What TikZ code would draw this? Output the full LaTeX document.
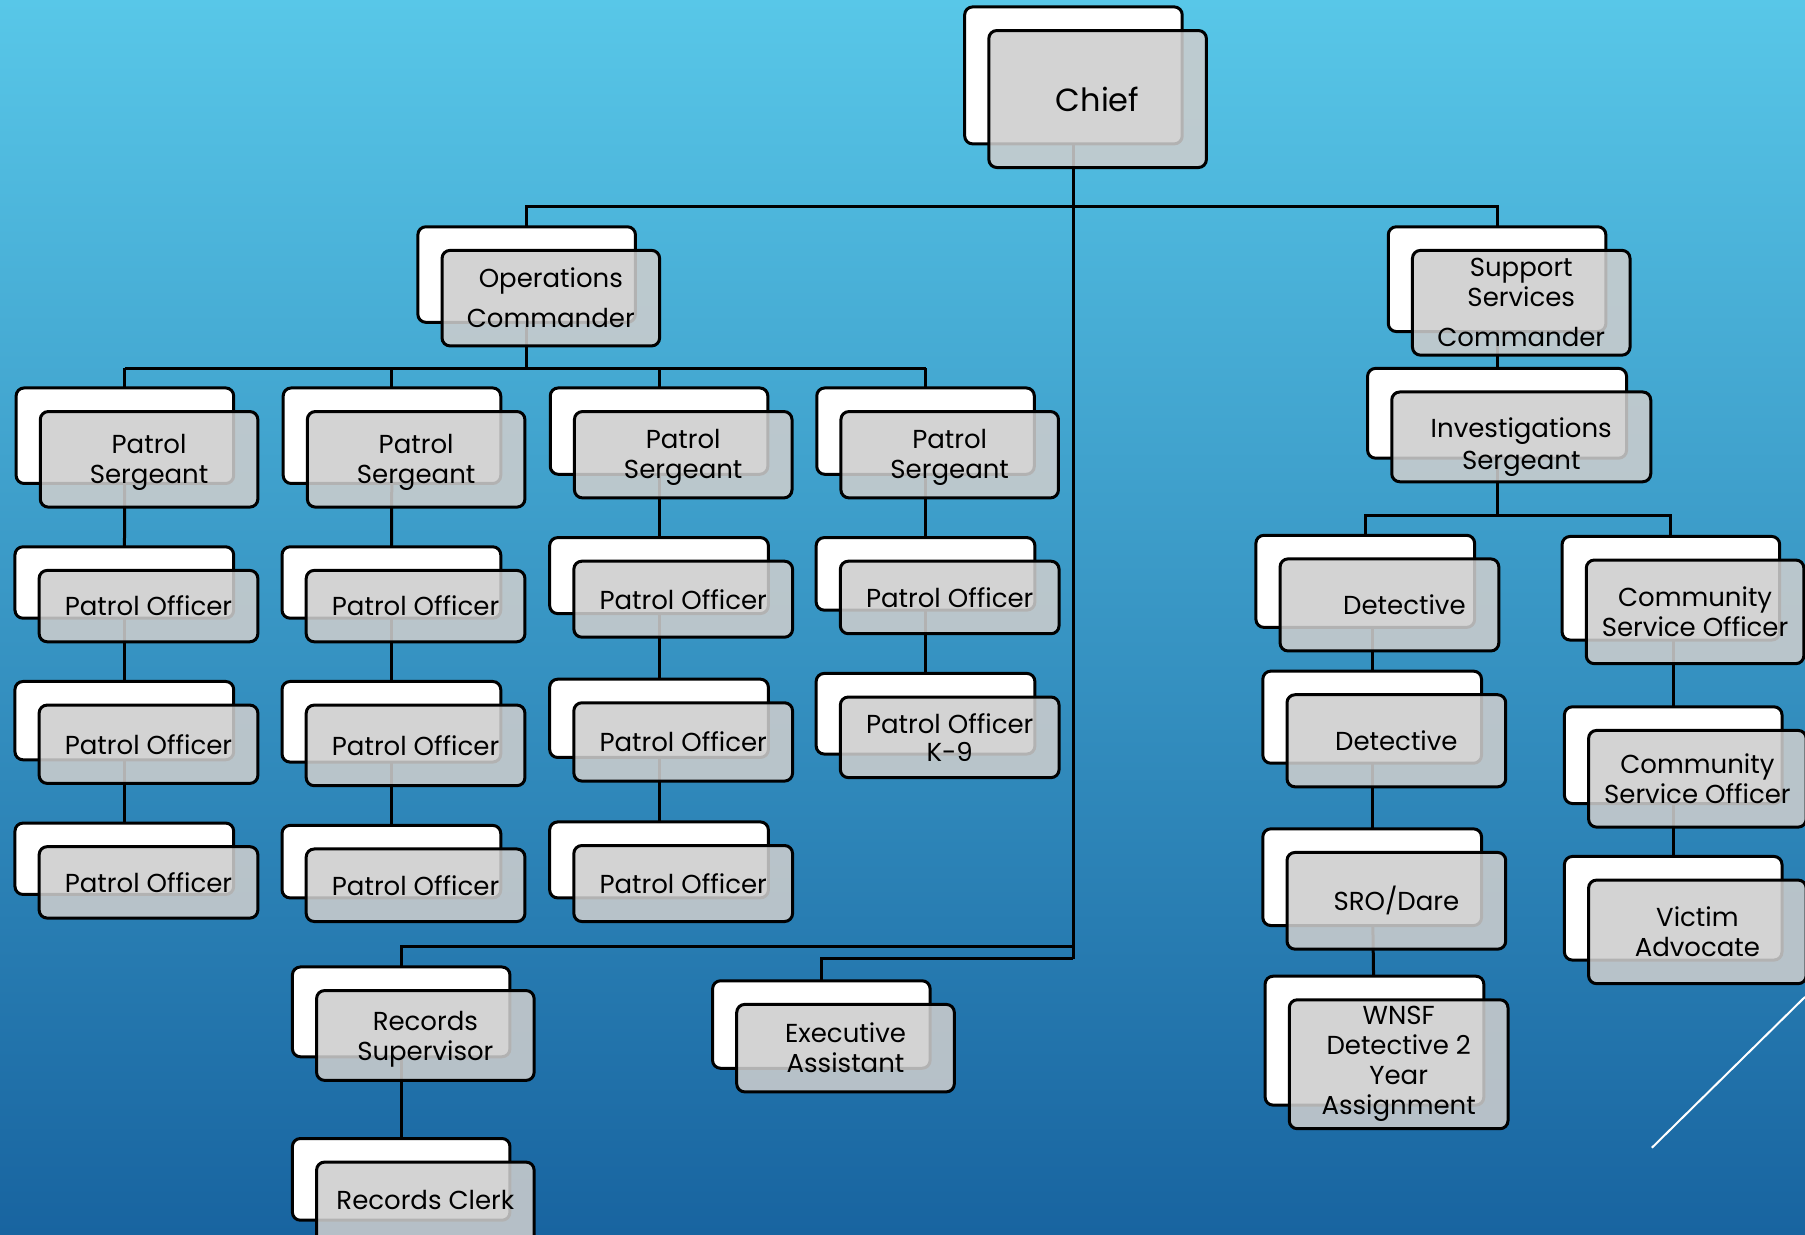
\documentclass[tikz,border=0pt]{standalone}
\usepackage{fontspec}
\setmainfont{Poppins}
\pgfdeclarelayer{sky}
\pgfdeclarelayer{wires}
\pgfsetlayers{sky,wires,main}
\newdimen\pxu
\pxu=0.5756pt
\newcommand\boxfont{\fontsize{13}{15}\selectfont}
\newcommand\orgbox[6][]{%
\node[backbox, minimum width=#4*\pxu, minimum height=#5*\pxu] (#2) at (#3) {};
\node[frontbox, minimum width=#4*\pxu, minimum height=#5*\pxu] (#2-f) at ([shift={(21,20.5)}]#2.center) {};
\node[boxtext, #1] (#2-t) at (#2-f.center) {#6};
}
\begin{document}
\begin{tikzpicture}[x=0.5756pt, y=-0.5756pt,
  backbox/.style={draw=black, line width=1.5pt, fill=white, rounded corners=4pt, inner sep=0pt},
  frontbox/.style={draw=black, line width=1.5pt, fill=boxgray, fill opacity=0.87, rounded corners=4pt, inner sep=0pt},
  boxtext/.style={align=center, font=\boxfont, inner sep=0pt},
  wire/.style={draw=black, line width=1.5pt}]
\definecolor{skytop}{RGB}{88,199,232}
\definecolor{skybot}{RGB}{24,100,160}
\definecolor{boxgray}{RGB}{205,205,205}
\useasboundingbox (0,0) rectangle (1568,1072);
\orgbox{chief}{932.5,65.5}{189}{119}{\fontsize{16}{19}\selectfont Chief}
\orgbox{ops}{457.5,238.5}{189}{83}{Operations\\[5pt]Commander}
\orgbox{sup}{1300.5,242.5}{189}{91}{Support\\Services\\[5pt]Commander}
\orgbox[yshift=-9*\pxu]{inv}{1300.5,359}{225}{78}{Investigations\\[1pt]Sergeant}
\foreach \nm/\x/\y/\h in {ps1/108.5/378.5/83, ps2/340.5/378.5/83, ps3/572.5/374.5/75, ps4/804/374.5/75}
  \orgbox[yshift=-2.5*\pxu]{\nm}{\x,\y}{189}{\h}{Patrol\\Sergeant};
\foreach \nm/\x/\y/\h in {po11/108/506/62, po12/108/626/68, po13/108/746/62, po21/340/506/62, po22/340/627/70, po23/340/748.5/63, po31/572.5/500/66, po32/572.5/624/68, po33/572.5/747/66, po41/804/498.5/63}
  \orgbox{\nm}{\x,\y}{190}{\h}{Patrol Officer};
\orgbox{k9}{804,620}{190}{70}{Patrol Officer\\[-1pt]K-9}
\orgbox[xshift=13*\pxu]{det1}{1186,505}{190}{80}{Detective}
\orgbox{det2}{1192,623}{190}{80}{Detective}
\orgbox{sro}{1192,762}{190}{84}{SRO/Dare}
\orgbox{wnsf}{1194,904}{190}{112}{WNSF\\Detective 2\\Year\\Assignment}
\orgbox{cso1}{1451.5,511}{189}{90}{Community\\Service Officer}
\orgbox{cso2}{1453.5,656}{189}{84}{Community\\Service Officer}
\orgbox{vict}{1453.5,789}{189}{90}{Victim\\Advocate}
\orgbox[yshift=-3.5*\pxu]{recsup}{348.5,879}{189}{78}{Records\\Supervisor}
\orgbox{exec}{713.5,890}{189}{76}{Executive\\Assistant}
\orgbox[yshift=3*\pxu]{clerk}{348.5,1024.5}{189}{71}{Records Clerk}
\begin{pgfonlayer}{wires}
\coordinate (trunk) at (932.5,833);
\coordinate (topbus) at (0,179);
\coordinate (opsbus) at (0,320);
\coordinate (invbus) at (0,448);
\coordinate (recbus) at (0,822);
\draw[wire] (chief.center) -- (trunk);
\draw[wire] (ops.center) -- (ops |- topbus) -- (sup |- topbus) -- (sup.center);
\draw[wire] (sup.center) -- (inv.center);
\draw[wire] (ps1 |- opsbus) -- (ps4 |- opsbus);
\foreach \n in {ops,ps1,ps2,ps3,ps4} \draw[wire] (\n.center) -- (\n |- opsbus);
\foreach \a/\b in {ps1/po11, po11/po12, po12/po13, ps2/po21, po21/po22, po22/po23, ps3/po31, po31/po32, po32/po33, ps4/po41, po41/k9, det2/sro, sro/wnsf, cso2/vict, recsup/clerk}
  \draw[wire] (\a.center) -- (\b.center);
\draw[wire] (inv.center) -- (inv |- invbus);
\draw[wire] (det1.center) -- (det1 |- invbus) -- (cso1 |- invbus) -- (cso1.center);
\draw[wire] (det2 |- det1) -- (det2.center);
\draw[wire] (cso2 |- cso1) -- (cso2.center);
\draw[wire] (recsup.center) -- (recsup |- recbus) -- (chief |- recbus);
\draw[wire] (exec.center) -- (exec |- trunk) -- (trunk);
\end{pgfonlayer}
\begin{pgfonlayer}{sky}
\shade[top color=skytop, bottom color=skybot] (0,0) rectangle (1568,1072);
\end{pgfonlayer}
\draw[white, line width=1pt] (1435,997) -- (1568,866);
\end{tikzpicture}
\end{document}
